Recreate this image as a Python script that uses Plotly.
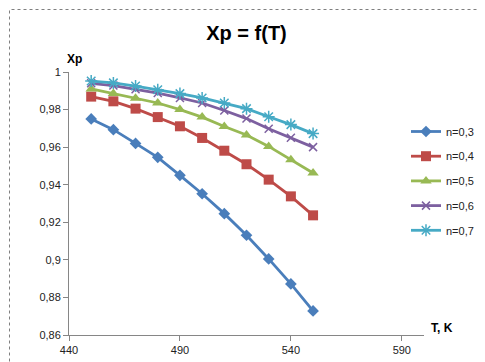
import plotly.graph_objects as go

# ---- data ----
T = [450, 460, 470, 480, 490, 500, 510, 520, 530, 540, 550]
n03 = [0.975, 0.9693, 0.962, 0.9546, 0.945, 0.9352, 0.9246, 0.9131, 0.9005, 0.8872, 0.8728]
n04 = [0.9869, 0.9844, 0.9805, 0.976, 0.9711, 0.9649, 0.9581, 0.9509, 0.9427, 0.9338, 0.9237]
n05 = [0.991, 0.9885, 0.986, 0.9835, 0.980, 0.976, 0.971, 0.9665, 0.9604, 0.9533, 0.9462]
n06 = [0.994, 0.9928, 0.9908, 0.9888, 0.9862, 0.9835, 0.9795, 0.9752, 0.9698, 0.9650, 0.9600]
n07 = [0.9952, 0.9942, 0.9925, 0.9906, 0.9885, 0.9862, 0.9835, 0.9805, 0.9762, 0.9720, 0.9672]
series_names = ["n=0,3", "n=0,4", "n=0,5", "n=0,6", "n=0,7"]
x_tickvals = [440, 490, 540, 590]
x_ticktext = ["440", "490", "540", "590"]
y_tickvals = [0.86, 0.88, 0.90, 0.92, 0.94, 0.96, 0.98, 1.0]
y_ticktext = ["0,86", "0,88", "0,9", "0,92", "0,94", "0,96", "0,98", "1"]

W, H = 485, 362
L, R, TOP, BOT = 61, 416, 64, 327

colors = ["#4A7EBB", "#BE4B48", "#98B954", "#7D60A0", "#46AAC5"]
markers = [
    dict(symbol="diamond", size=9),
    dict(symbol="square", size=10),
    dict(symbol="triangle-up", size=10),
    dict(symbol="x-thin-open", size=8, line=dict(width=1.5)),
    dict(symbol="asterisk-open", size=10, line=dict(width=1.5)),
]

fig = go.Figure()
for i, (name, ys) in enumerate(zip(series_names, [n03, n04, n05, n06, n07])):
    m = dict(markers[i])
    m["color"] = colors[i]
    if "line" in m:
        m["line"] = dict(m["line"], color=colors[i])
    fig.add_trace(go.Scatter(
        x=T, y=ys, name=name, mode="lines+markers",
        line=dict(color=colors[i], width=2.8),
        marker=m, legendgroup=name,
    ))

def px_x(p):
    return (p - L) / (R - L)

def px_y(p):
    return (BOT - p) / (BOT - TOP)

fig.update_layout(
    width=W, height=H,
    margin=dict(l=L, r=W - R, t=TOP, b=H - BOT, pad=0),
    paper_bgcolor="white", plot_bgcolor="white",
    separators=", ",
    font=dict(family="Liberation Sans, Arial, sans-serif", size=11, color="#222222"),
    title=dict(text="<b>Xp = f(T)</b>", x=0.5, xref="paper", xanchor="center",
               y=1 - 25 / H, yanchor="middle",
               font=dict(size=20, color="#000000")),
    xaxis=dict(range=[440, 600], tickvals=x_tickvals, ticktext=x_ticktext,
               showgrid=False, zeroline=False, showline=True, linecolor="#868686",
               linewidth=1, ticks="outside", ticklen=5, tickcolor="#868686",
               tickfont=dict(size=11, color="#222222")),
    yaxis=dict(range=[0.86, 1.0], tickvals=y_tickvals, ticktext=y_ticktext,
               showgrid=False, zeroline=False, showline=True, linecolor="#868686",
               linewidth=1, ticks="outside", ticklen=5, tickcolor="#868686",
               tickfont=dict(size=11, color="#222222")),
    legend=dict(x=px_x(398), xanchor="left", y=px_y(109), yanchor="top",
                bgcolor="rgba(0,0,0,0)", font=dict(size=11, color="#222222"),
                tracegroupgap=5.7, itemwidth=30),
    showlegend=True,
)

fig.add_annotation(text="<b>Xp</b>", xref="paper", yref="paper",
                   x=px_x(57), y=px_y(42), showarrow=False,
                   font=dict(size=12, color="#000000"))
fig.add_annotation(text="<b>T, K</b>", xref="paper", yref="paper",
                   x=px_x(421), xanchor="left", y=px_y(329), showarrow=False,
                   font=dict(size=12, color="#000000"))

fig.add_shape(type="rect", xref="paper", yref="paper",
              x0=px_x(1.5), x1=px_x(482.5), y0=px_y(358.5), y1=px_y(1.5),
              line=dict(color="#7F7F7F", width=1, dash="dot"))

fig.write_html("out.html")
